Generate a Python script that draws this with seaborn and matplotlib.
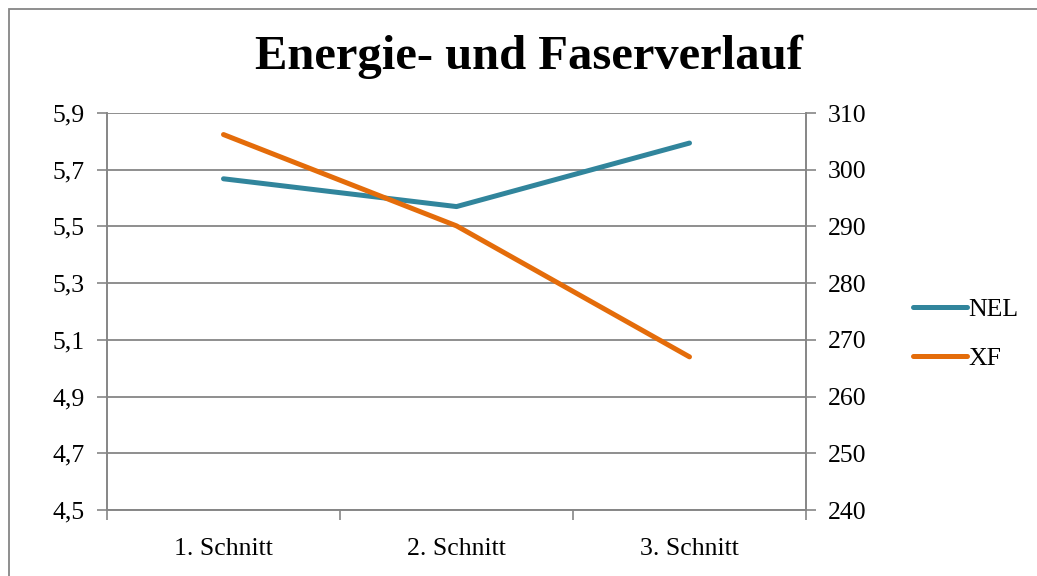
import matplotlib
matplotlib.use('Agg')
import matplotlib.pyplot as plt
import seaborn as sns
import pandas as pd
from matplotlib.ticker import FuncFormatter, FixedLocator
from matplotlib.patches import Rectangle
from matplotlib.lines import Line2D

# Daten
schnitte = ['1. Schnitt', '2. Schnitt', '3. Schnitt']
nel = [5.668, 5.57, 5.794]
xf = [306.2, 290.1, 267.0]

df = pd.DataFrame({'Schnitt': schnitte, 'NEL': nel, 'XF': xf})

sns.set_style('white')
plt.rcParams['font.family'] = ['Liberation Serif', 'DejaVu Serif']
plt.rcParams['text.color'] = 'black'
plt.rcParams['xtick.color'] = 'black'
plt.rcParams['ytick.color'] = 'black'

farbe_nel = '#31859C'
farbe_xf = '#E46C0A'
grau = '#868686'

fig = plt.figure(figsize=(10.37, 5.76), dpi=100)
ax = fig.add_axes([107 / 1037, 66 / 576, 699 / 1037, 397 / 576])
ax2 = ax.twinx()

sns.lineplot(data=df, x='Schnitt', y='NEL', ax=ax, color=farbe_nel,
             linewidth=3.6, solid_capstyle='round', legend=False)
sns.lineplot(data=df, x='Schnitt', y='XF', ax=ax2, color=farbe_xf,
             linewidth=3.6, solid_capstyle='round', legend=False)

ax.set_xlim(-0.5, 2.5)
ax.set_ylim(4.5, 5.9)
ax2.set_ylim(240, 310)
ax.set_yticks([4.5, 4.7, 4.9, 5.1, 5.3, 5.5, 5.7, 5.9])
ax2.set_yticks(range(240, 311, 10))
ax.yaxis.set_major_formatter(FuncFormatter(lambda v, p: f'{v:.1f}'.replace('.', ',')))

ax.set_xticks([0, 1, 2])
ax.set_xticklabels(schnitte)
ax.xaxis.set_minor_locator(FixedLocator([-0.5, 0.5, 1.5, 2.5]))
ax.tick_params(axis='x', which='major', bottom=True, length=0, pad=20, labelsize=18.5)
ax.tick_params(axis='x', which='minor', bottom=True, length=7, width=1.2, color=grau,
               direction='out')
ax.tick_params(axis='y', left=True, length=7, width=1.2, color=grau, labelsize=18.5,
               pad=9, labelcolor='black')
ax2.tick_params(axis='y', right=True, length=7, width=1.2, color=grau, labelsize=18.5,
                pad=9, labelcolor='black')

ax.grid(axis='y', color=grau, linewidth=1.3)
ax.set_axisbelow(True)
ax.set_xlabel('')
ax.set_ylabel('')
ax2.set_ylabel('')

for a in (ax, ax2):
    a.spines['top'].set_visible(False)
    for s in ('left', 'right', 'bottom'):
        a.spines[s].set_color(grau)
        a.spines[s].set_linewidth(1.2)

fig.text(0.51, 1 - 57 / 576, 'Energie- und Faserverlauf', ha='center', va='center',
         fontsize=35, fontweight='bold', color='black')

handles = [Line2D([0], [0], color=farbe_nel, linewidth=3.6, solid_capstyle='round'),
           Line2D([0], [0], color=farbe_xf, linewidth=3.6, solid_capstyle='round')]
fig.legend(handles, ['NEL', 'XF'], loc='center left',
           bbox_to_anchor=(890 / 1037, 1 - 334 / 576),
           frameon=False, fontsize=18.5, handlelength=2.1, handletextpad=0.05,
           labelspacing=1.0)

# Rahmen des Diagramms
fig.patches.append(Rectangle((9 / 1037, -0.05), 1.1, 1.0 - 9 / 576 + 0.05,
                             transform=fig.transFigure, fill=False,
                             edgecolor=grau, linewidth=1.3))

fig.savefig('out.png', dpi=100)
